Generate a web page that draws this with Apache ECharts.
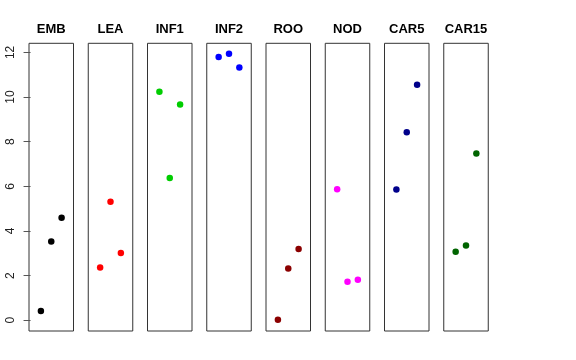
<!DOCTYPE html>
<html>
<head>
<meta charset="utf-8">
<script src="https://cdn.jsdelivr.net/npm/echarts@6/dist/echarts.min.js"></script>
<style>html,body{margin:0;padding:0;background:#fff;}#c{width:576px;height:360px;}</style>
</head>
<body>
<div id="c"></div>
<script>
const panels = ['EMB', 'LEA', 'INF1', 'INF2', 'ROO', 'NOD', 'CAR5', 'CAR15'];
const xPositions = [1, 2, 3];
const embValues = [0.42, 3.53, 4.59];
const leaValues = [2.37, 5.31, 3.01];
const inf1Values = [10.24, 6.38, 9.67];
const inf2Values = [11.80, 11.94, 11.33];
const rooValues = [0.02, 2.32, 3.19];
const nodValues = [5.87, 1.73, 1.82];
const car5Values = [5.86, 8.42, 10.55];
const car15Values = [3.07, 3.35, 7.47];
const yTicks = [0, 2, 4, 6, 8, 10, 12];
const panelColors = ['#000000', '#FF0000', '#00CD00', '#0000FF', '#8B0000', '#FF00FF', '#00008B', '#006400'];

const allValues = [embValues, leaValues, inf1Values, inf2Values, rooValues, nodValues, car5Values, car15Values];

(function () {
  const left0 = 29, step = 59.25, w = 44.5, gTop = 43.3, h = 287.7;
  const grids = [], xAxes = [], yAxes = [], series = [], graphics = [];
  panels.forEach((name, i) => {
    const l = left0 + step * i;
    grids.push({ left: l, top: gTop, width: w, height: h, show: true, borderColor: '#333', borderWidth: 1, backgroundColor: 'transparent' });
    xAxes.push({ gridIndex: i, type: 'value', min: -0.15, max: 4.15, show: false });
    yAxes.push({
      gridIndex: i, type: 'value', min: -0.48, max: 12.41, show: i === 0,
      splitLine: { show: false }, axisLine: { show: false },
      axisTick: { show: true, length: 7, customValues: yTicks, lineStyle: { color: '#555' } },
      axisLabel: { show: true, customValues: yTicks, rotate: 90, margin: 12, fontFamily: 'Liberation Sans', fontSize: 12, color: '#222' }
    });
    series.push({
      type: 'scatter', xAxisIndex: i, yAxisIndex: i, symbolSize: 6.5,
      itemStyle: { color: panelColors[i], opacity: 1 },
      data: allValues[i].map((v, k) => [xPositions[k], v]), silent: true
    });
    graphics.push({ type: 'text', x: l + w / 2, y: 29.5, style: { text: name, textAlign: 'center', textVerticalAlign: 'middle', font: 'bold 13px "Liberation Sans"', fill: '#000' } });
  });

  const chart = echarts.init(document.getElementById('c'), null, { renderer: 'canvas' });
  chart.setOption({
    animation: false,
    grid: grids, xAxis: xAxes, yAxis: yAxes, series: series, graphic: graphics
  });
})();
</script>
</body>
</html>
